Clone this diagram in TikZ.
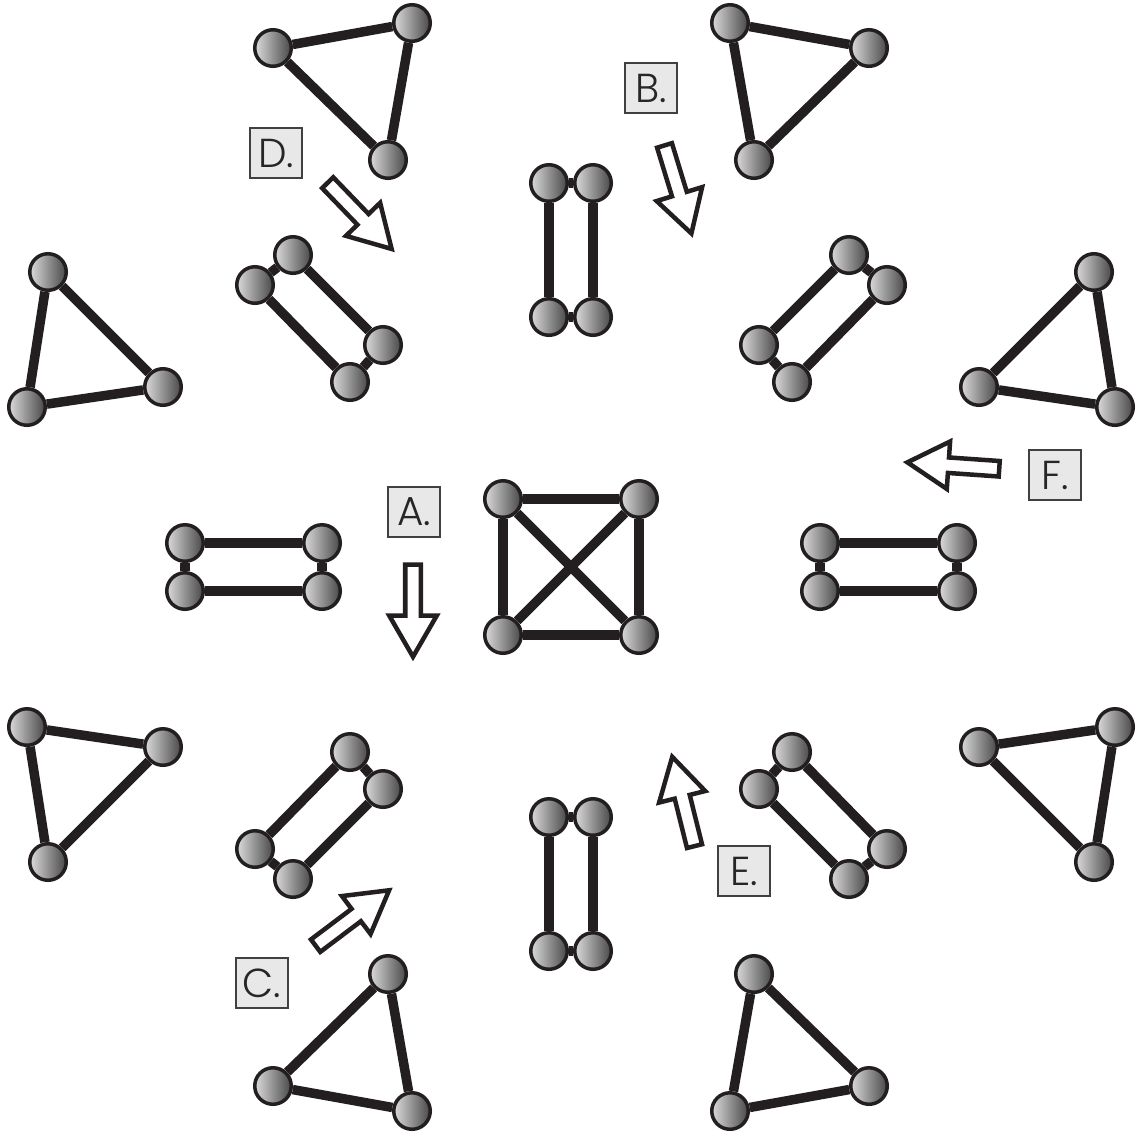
\documentclass[tikz,border=0pt]{standalone}
\usepackage{fontspec}
\newfontfamily\tagfont{Poppins}[UprightFont={* Light}]
\usetikzlibrary{shapes.arrows}
\definecolor{ink}{HTML}{231F20}
\begin{document}
\begin{tikzpicture}[x=0.01cm,y=-0.01cm,
  ball/.style={circle,draw=ink,line width=0.035cm,minimum size=0.365cm,inner sep=0pt,
               left color=black!14,right color=black!72},
  bond/.style={draw=ink,line width=0.095cm},
  tag/.style={draw=black!75,fill=black!9,line width=0.4pt,minimum width=0.52cm,
              minimum height=0.5cm,inner sep=0pt,text=black!85,
              font=\tagfont\fontsize{11.5}{12}\selectfont},
  blk/.style={single arrow,draw=ink,fill=white,line width=0.045cm,inner sep=0pt,
              inner ysep=0.055cm,minimum height=0.92cm,single arrow head extend=0.16cm,
              single arrow tip angle=60}]
\useasboundingbox (0,0) rectangle (1136,1135);
% triangles
\foreach \n/\p/\q/\r in {tl/{273,48}/{412,23}/{388,160}, tr/{869,48}/{730,23}/{754,160},
    lu/{48,272}/{163,387}/{27,407}, ru/{1094,272}/{979,387}/{1115,407},
    ll/{48,862}/{163,747}/{27,727}, rl/{1094,862}/{979,747}/{1115,727},
    bl/{273,1086}/{412,1111}/{388,974}, br/{869,1086}/{730,1111}/{754,974}}{
  \node[ball] (\n1) at (\p) {};
  \node[ball] (\n2) at (\q) {};
  \node[ball] (\n3) at (\r) {};
  \draw[bond] (\n1) -- (\n2) -- (\n3) -- (\n1);
}
% pairs of bonds
\foreach \n/\p/\q/\r/\s in {dul/{293,255}/{383,345}/{255,285}/{350,382},
    dur/{849,255}/{759,345}/{887,285}/{792,382},
    dll/{293,879}/{383,789}/{255,849}/{350,752},
    dlr/{849,879}/{759,789}/{887,849}/{792,752},
    hl/{185,543}/{322,543}/{185,591}/{322,591},
    hr/{820,543}/{957,543}/{820,591}/{957,591},
    vt/{549,183}/{549,317}/{593,183}/{593,317},
    vb/{549,817}/{549,951}/{593,817}/{593,951}}{
  \node[ball] (\n1) at (\p) {};
  \node[ball] (\n2) at (\q) {};
  \node[ball] (\n3) at (\r) {};
  \node[ball] (\n4) at (\s) {};
  \draw[bond] (\n1) -- (\n2);
  \draw[bond] (\n3) -- (\n4);
  \draw[bond] (\n1) -- (\n3);
  \draw[bond] (\n2) -- (\n4);
}
% centre
\node[ball] (sq1) at (503,499) {};
\node[ball] (sq2) at (639,499) {};
\node[ball] (sq3) at (639,635) {};
\node[ball] (sq4) at (503,635) {};
\draw[bond] (sq1) -- (sq2) -- (sq3) -- (sq4) -- (sq1);
\draw[bond] (sq1) -- (sq3);
\draw[bond] (sq2) -- (sq4);
% labels and arrows
\node[tag] (la) at (414,512) {A.};
\node[tag] (lb) at (651,88) {B.};
\node[tag] (lc) at (262,983) {C.};
\node[tag] (ld) at (276,153) {D.};
\node[tag] (le) at (744,871) {E.};
\node[tag] (lf) at (1055,475) {F.};
\node[blk,rotate=-90] (aa) at (413,604) {};
\node[blk,rotate=-73] (ab) at (676,183) {};
\node[blk,rotate=37] (ac) at (347,922) {};
\node[blk,rotate=-46] (ad) at (355,211) {};
\node[blk,rotate=104] (ae) at (685,808) {};
\node[blk,rotate=176] (af) at (960,466) {};
\end{tikzpicture}
\end{document}
